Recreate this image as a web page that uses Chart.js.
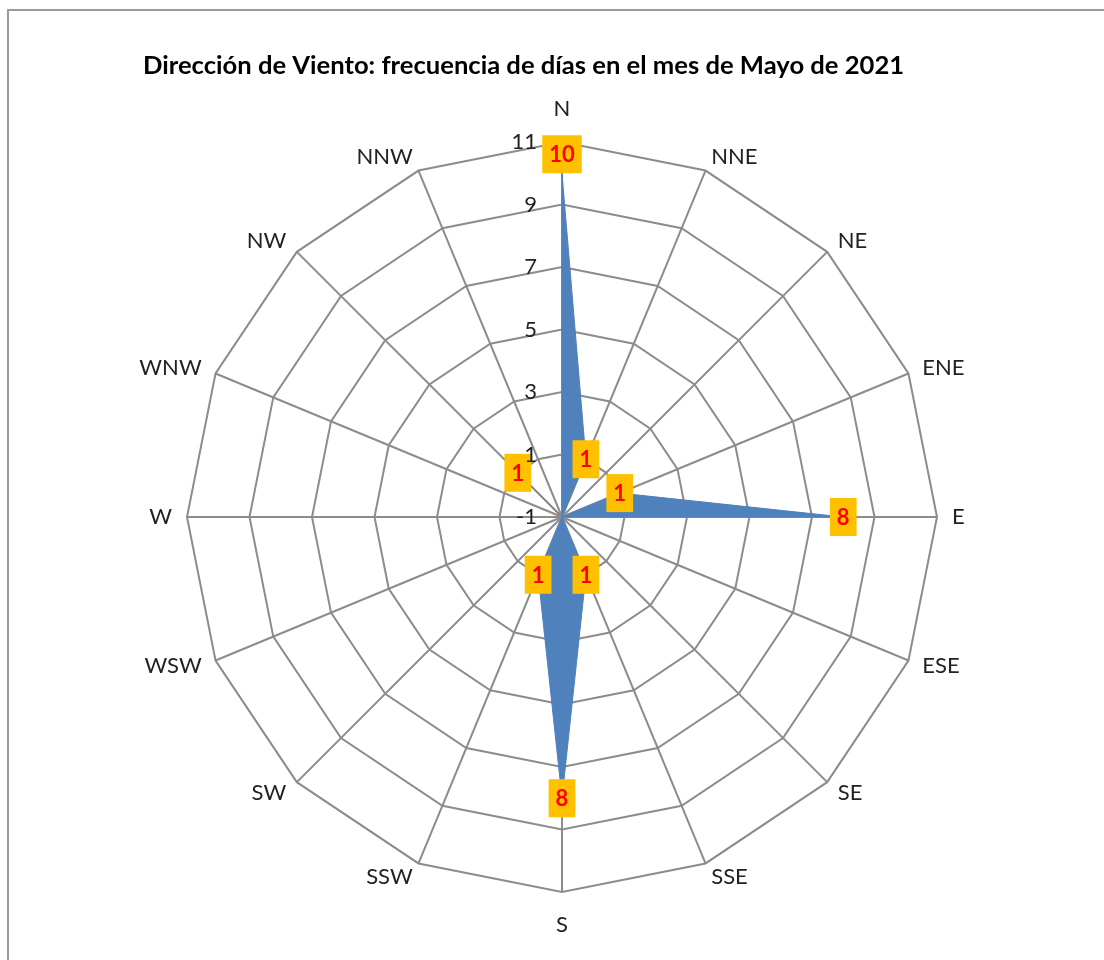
<!DOCTYPE html>
<html>
<head>
<meta charset="utf-8">
<script src="https://cdn.jsdelivr.net/npm/chart.js@4.4.1/dist/chart.umd.min.js"></script>
<style>
  body { margin: 0; background: #fff; overflow: hidden; }
  #marco { position: absolute; left: 7px; top: 9px; width: 1200px; height: 1100px;
           border-left: 2px solid #9a9a9a; border-top: 2px solid #9a9a9a; }
  #wrap { position: absolute; left: 0; top: 0; width: 1104px; height: 960px; }
</style>
</head>
<body>
<div id="marco"></div>
<div id="wrap"><canvas id="rosa" width="1104" height="960"></canvas></div>
<script>
// ------------------------------
// Datos
// ------------------------------
const direcciones = ["N", "NNE", "NE", "ENE", "E", "ESE", "SE", "SSE",
                     "S", "SSW", "SW", "WSW", "W", "WNW", "NW", "NNW"];
const dias = [10, 1, 0, 1, 8, 0, 0, 1, 8, 1, 0, 0, 0, 0, 1, 0];

const ejeMin = -1;
const ejeMax = 11;
const ejePaso = 2;

const titulo = "Dirección de Viento: frecuencia de días en el mes de Mayo de 2021";

const fuente = "Lato, 'Liberation Sans', sans-serif";
const azul = "#4F81BD";
const gris = "#8c8c8c";

// las direcciones sin dias quedan en el centro, como en la hoja original
const puntos = dias.map(d => d > 0 ? d : ejeMin);

// ------------------------------
// Plugins propios
// ------------------------------
const tituloPlugin = {
    id: "tituloPlugin",
    afterDraw(chart) {
        const ctx = chart.ctx;
        ctx.save();
        let size = 24;
        ctx.font = "bold " + size + "px " + fuente;
        const w = ctx.measureText(titulo).width;
        size = size * 762 / w;
        ctx.font = "bold " + size.toFixed(1) + "px " + fuente;
        ctx.fillStyle = "#000";
        ctx.textAlign = "left";
        ctx.textBaseline = "middle";
        ctx.fillText(titulo, 143, 66);
        ctx.restore();
    }
};

// nombres de direccion fuera del poligono exterior (colocados como en Excel)
const direccionesPlugin = {
    id: "direccionesPlugin",
    afterDraw(chart) {
        const r = chart.scales.r;
        const ctx = chart.ctx;
        ctx.save();
        ctx.font = "22px " + fuente;
        ctx.fillStyle = "#222";
        ctx.textBaseline = "middle";
        direcciones.forEach((lab, i) => {
            const p = r.getPointPosition(i, r.drawingArea + 15);
            const dx = p.x - r.xCenter;
            let y = p.y;
            if (Math.abs(dx) < 1) {
                ctx.textAlign = "center";
                y += p.y < r.yCenter ? -18 : 18;
            } else {
                ctx.textAlign = dx > 0 ? "left" : "right";
            }
            ctx.fillText(lab, p.x, y);
        });
        ctx.restore();
    }
};

const ticksPlugin = {
    id: "ticksPlugin",
    afterDraw(chart) {
        const r = chart.scales.r;
        const ctx = chart.ctx;
        ctx.save();
        ctx.font = "22px " + fuente;
        ctx.fillStyle = "#222";
        ctx.textAlign = "right";
        ctx.textBaseline = "middle";
        r.ticks.forEach(t => {
            const d = r.getDistanceFromCenterForValue(t.value);
            ctx.fillText(String(t.value), r.xCenter - 25, r.yCenter - d);
        });
        ctx.restore();
    }
};

const etiquetasPlugin = {
    id: "etiquetasPlugin",
    afterDatasetsDraw(chart) {
        const ctx = chart.ctx;
        const meta = chart.getDatasetMeta(0);
        ctx.save();
        ctx.font = "bold 22px " + fuente;
        ctx.textAlign = "center";
        ctx.textBaseline = "middle";
        meta.data.forEach((p, i) => {
            if (dias[i] <= 0) return;
            const txt = String(dias[i]);
            const w = ctx.measureText(txt).width + 14;
            const h = 38;
            let y = p.y;
            if (i === 0) y -= 19;
            ctx.fillStyle = "#FFC000";
            ctx.fillRect(p.x - w / 2, y - h / 2, w, h);
            ctx.fillStyle = "#FF0000";
            ctx.fillText(txt, p.x, y + 1);
        });
        ctx.restore();
    }
};

// ------------------------------
// Grafico
// ------------------------------
const ctx = document.getElementById("rosa");

new Chart(ctx, {
    type: "radar",
    data: {
        labels: direcciones,
        datasets: [
            {
                label: "Días",
                data: puntos,
                backgroundColor: azul,
                borderColor: azul,
                borderWidth: 1,
                fill: "start",
                pointRadius: 0,
                pointHoverRadius: 0
            }
        ]
    },
    options: {
        responsive: false,
        animation: false,
        layout: {
            padding: { left: 187, right: 167, top: 142, bottom: 68 }
        },
        plugins: {
            legend: { display: false },
            title: { display: false },
            tooltip: { enabled: false }
        },
        scales: {
            r: {
                min: ejeMin,
                max: ejeMax,
                ticks: { stepSize: ejePaso, display: false },
                grid: { color: gris, lineWidth: 2 },
                angleLines: { color: gris, lineWidth: 2 },
                pointLabels: { display: false }
            }
        }
    },
    plugins: [tituloPlugin, direccionesPlugin, ticksPlugin, etiquetasPlugin]
});
</script>
</body>
</html>
